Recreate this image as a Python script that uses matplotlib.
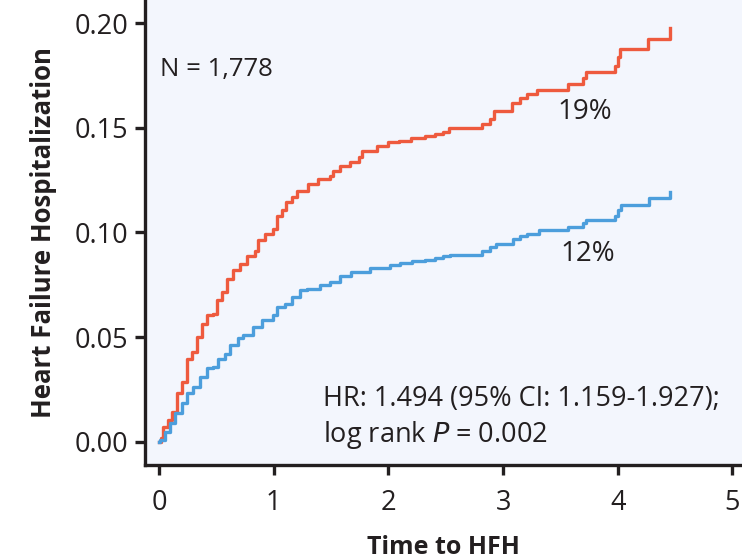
import matplotlib
matplotlib.use("Agg")
import matplotlib.pyplot as plt

plt.rcParams['font.family'] = ['Open Sans', 'DejaVu Sans']

# Cumulative incidence of heart failure hospitalization (step times in years)
red_time = [0.0, 0.02, 0.038, 0.081, 0.11, 0.154, 0.198, 0.241, 0.285, 0.329,
            0.372, 0.416, 0.473, 0.503, 0.547, 0.59, 0.648, 0.706, 0.765, 0.837,
            0.866, 0.924, 0.997, 1.026, 1.07, 1.11, 1.157, 1.20, 1.30, 1.39,
            1.49, 1.52, 1.58, 1.665, 1.74, 1.77, 1.90, 2.0, 2.09, 2.20, 2.32,
            2.41, 2.48, 2.53, 2.82, 2.89, 2.92, 3.08, 3.15, 3.21, 3.30, 3.57,
            3.70, 3.72, 3.98, 4.00, 4.02, 4.26, 4.455]
red_risk = [0.0, 0.002, 0.0073, 0.0105, 0.0144, 0.0232, 0.0287, 0.0398, 0.043,
            0.0501, 0.0565, 0.0605, 0.0613, 0.0676, 0.0716, 0.078, 0.0819,
            0.085, 0.089, 0.0914, 0.0962, 0.0994, 0.1017, 0.108, 0.1105,
            0.1144, 0.1168, 0.12, 0.1232, 0.1256, 0.1271, 0.1295, 0.1319,
            0.1335, 0.1359, 0.139, 0.1414, 0.143, 0.1438, 0.1451, 0.146, 0.147,
            0.148, 0.150, 0.152, 0.154, 0.158, 0.162, 0.164, 0.166, 0.168,
            0.171, 0.1737, 0.1767, 0.1795, 0.184, 0.1878, 0.1925, 0.1978]

blue_time = [0.0, 0.009, 0.052, 0.096, 0.14, 0.198, 0.241, 0.30, 0.357, 0.416,
             0.473, 0.517, 0.575, 0.619, 0.69, 0.735, 0.82, 0.896, 0.997, 1.026,
             1.10, 1.157, 1.23, 1.29, 1.40, 1.49, 1.58, 1.67, 1.84, 2.01, 2.10,
             2.21, 2.32, 2.41, 2.48, 2.54, 2.82, 2.89, 2.94, 3.09, 3.15, 3.21,
             3.31, 3.57, 3.70, 3.72, 3.98, 4.00, 4.03, 4.27, 4.455]
blue_risk = [0.0, 0.001, 0.0049, 0.0089, 0.0137, 0.0184, 0.0232, 0.0263,
             0.0311, 0.0351, 0.0359, 0.0398, 0.0422, 0.0462, 0.0494, 0.051,
             0.055, 0.0581, 0.0605, 0.0644, 0.066, 0.0692, 0.0724, 0.0732,
             0.0748, 0.0763, 0.079, 0.081, 0.0829, 0.0843, 0.0854, 0.0863,
             0.0871, 0.0879, 0.0887, 0.0893, 0.0914, 0.093, 0.0946, 0.0968,
             0.0981, 0.0994, 0.101, 0.1025, 0.1044, 0.1062, 0.1081, 0.1105,
             0.1133, 0.1163, 0.1192]

x_ticks = [0, 1, 2, 3, 4, 5]
y_ticks = [0.00, 0.05, 0.10, 0.15, 0.20]
y_ticklabels = ["0.00", "0.05", "0.10", "0.15", "0.20"]

RED = "#EE5A3E"
BLUE = "#4C9EDC"
BG = "#F3F6FD"
INK = "#231F20"

fig = plt.figure(figsize=(7.42, 5.59), dpi=100)
ax = fig.add_axes([0.1954, 0.1682, 0.8046, 0.8318])
ax.set_facecolor(BG)

ax.plot(red_time, red_risk, drawstyle="steps-post", color=RED, lw=2.4)
ax.plot(blue_time, blue_risk, drawstyle="steps-post", color=BLUE, lw=2.4)

ax.set_xlim(-0.122, 5.083)
ax.set_ylim(-0.011, 0.211)
ax.set_xticks(x_ticks)
ax.set_yticks(y_ticks)
ax.set_yticklabels(y_ticklabels)

for side in ("top", "right"):
    ax.spines[side].set_visible(False)
for side in ("left", "bottom"):
    ax.spines[side].set_linewidth(2.4)
    ax.spines[side].set_color(INK)
ax.tick_params(axis="both", length=7, width=2.4, color=INK,
               labelsize=19.5, labelcolor=INK)
ax.tick_params(axis="x", pad=10)
ax.tick_params(axis="y", pad=5)

ax.set_xlabel("Time to HFH", fontsize=18, fontweight="bold", color=INK, labelpad=13)
ax.set_ylabel("Heart Failure Hospitalization", fontsize=18.5, fontweight="bold",
              color=INK, labelpad=13)

ax.text(0.01, 0.178, "N = 1,778", fontsize=18.5, color=INK, va="center", ha="left")
ax.text(3.47, 0.1574, "19%", fontsize=20, color=INK, va="center", ha="left")
ax.text(3.50, 0.0895, "12%", fontsize=20, color=INK, va="center", ha="left")
ax.text(1.43, 0.0205, "HR: 1.494 (95% CI: 1.159-1.927);", fontsize=19.5, color=INK,
        va="center", ha="left")
ax.text(1.43, 0.0033, "log rank $\\it{P}$ = 0.002", fontsize=19.5, color=INK,
        va="center", ha="left")

fig.savefig("out.png", dpi=100)
